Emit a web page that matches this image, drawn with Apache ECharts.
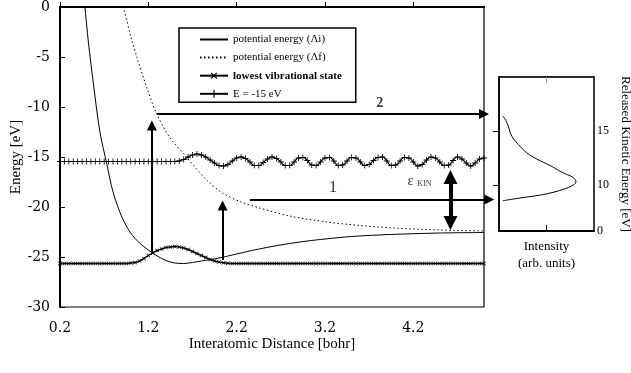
<!DOCTYPE html>
<html><head><meta charset="utf-8">
<script src="https://cdn.jsdelivr.net/npm/echarts@6/dist/echarts.min.js"></script>
<style>html,body{margin:0;padding:0;background:#fff}#c{width:631px;height:373px}</style>
</head><body><div id="c"></div>
<script>
// ---- data ----
const sampleX = [0.2,0.25,0.3,0.35,0.4,0.45,0.5,0.55,0.6,0.65,0.7,0.75,0.8,0.85,0.9,0.95,1.0,1.05,1.1,1.15,1.2,1.25,1.3,1.35,1.4,1.45,1.5,1.55,1.6,1.65,1.7,1.75,1.8,1.85,1.9,1.95,2.0,2.05,2.1,2.15,2.2,2.25,2.3,2.35,2.4,2.45,2.5,2.55,2.6,2.65,2.7,2.75,2.8,2.85,2.9,2.95,3.0,3.05,3.1,3.15,3.2,3.25,3.3,3.35,3.4,3.45,3.5,3.55,3.6,3.65,3.7,3.75,3.8,3.85,3.9,3.95,4.0,4.05,4.1,4.15,4.2,4.25,4.3,4.35,4.4,4.45,4.5,4.55,4.6,4.65,4.7,4.75,4.8,4.85,4.9,4.95,5.0];
const energyLineY = [
 -15.45,-15.45,-15.45,-15.45,-15.45,-15.45,-15.45,-15.45,-15.45,-15.45,
 -15.45,-15.45,-15.45,-15.45,-15.45,-15.45,-15.45,-15.45,-15.45,-15.45,
 -15.45,-15.45,-15.45,-15.45,-15.45,-15.45,-15.45,
 -15.4,-15.25,-15.0,-14.8,-14.7,-14.8,-15.0,-15.3,-15.6,-15.85,
 -15.9,-15.75,-15.4,-15.1,-15.0,-15.15,-15.5,-15.85,-15.85,-15.55,
 -15.2,-15.0,-15.15,-15.5,-15.85,-15.85,-15.5,-15.1,-15.05,-15.35,
 -15.8,-15.85,-15.5,-15.1,-15.05,-15.4,-15.85,-15.8,-15.4,-15.05,
 -15.1,-15.5,-15.85,-15.75,-15.35,-15.05,-15.0,-15.4,-15.85,-15.8,
 -15.4,-15.05,-15.1,-15.5,-15.9,-15.75,-15.3,-15.0,-15.1,-15.5,
 -15.85,-15.8,-15.35,-15.0,-15.2,-15.6,-15.9,-15.6,-15.2,-15.1];
const lowestStateY = [
 -25.65,-25.65,-25.65,-25.65,-25.65,-25.65,-25.65,-25.65,-25.65,-25.65,
 -25.65,-25.65,-25.65,-25.65,-25.65,-25.65,
 -25.6,-25.55,-25.4,-25.15,-24.85,-24.6,-24.35,-24.2,-24.05,-24.0,-23.95,-24.0,-24.1,-24.25,-24.45,-24.65,-24.85,-25.05,-25.25,-25.4,-25.5,-25.58,-25.63,
 -25.65,-25.65,-25.65,-25.65,-25.65,-25.65,-25.65,-25.65,-25.65,-25.65,
 -25.65,-25.65,-25.65,-25.65,-25.65,-25.65,-25.65,-25.65,-25.65,-25.65,
 -25.65,-25.65,-25.65,-25.65,-25.65,-25.65,-25.65,-25.65,-25.65,-25.65,
 -25.65,-25.65,-25.65,-25.65,-25.65,-25.65,-25.65,-25.65,-25.65,-25.65,
 -25.65,-25.65,-25.65,-25.65,-25.65,-25.65,-25.65,-25.65,-25.65,-25.65,
 -25.65,-25.65,-25.65,-25.65,-25.65,-25.65,-25.65,-25.65];
const potIX = [0.45,0.48,0.52,0.58,0.65,0.73,0.8,0.9,1.0,1.1,1.2,1.3,1.4,1.5,1.6,1.7,1.8,2.0,2.2,2.4,2.6,2.8,3.0,3.2,3.5,3.8,4.1,4.5,5.0];
const potIY = [3.0,0.2,-3.4,-7.8,-12.4,-15.7,-18.5,-21.0,-22.6,-23.6,-24.3,-24.9,-25.35,-25.6,-25.65,-25.55,-25.4,-25.1,-24.7,-24.3,-23.95,-23.65,-23.4,-23.2,-22.95,-22.8,-22.7,-22.6,-22.55];
const potFX = [0.88,0.92,1.0,1.07,1.18,1.29,1.44,1.63,1.86,2.04,2.25,2.46,2.8,3.22,3.6,3.97,4.5,5.0];
const potFY = [1.2,-0.1,-2.9,-5.0,-8.0,-10.6,-13.0,-15.0,-17.3,-18.6,-19.5,-20.1,-20.9,-21.5,-21.85,-22.1,-22.3,-22.4];
const kinEnergy = [8.55,8.8,9.1,9.5,9.9,10.3,10.7,11.2,11.8,12.4,13.0,13.6,14.2,14.8,15.4,16.0,16.4];
const kinIntensity = [0.04,0.22,0.45,0.64,0.76,0.81,0.78,0.66,0.54,0.40,0.29,0.22,0.16,0.12,0.10,0.07,0.04];
const xTickValues = [0.2,1.2,2.2,3.2,4.2];
const insetTickValues = [10,15];
const insetLabelValues = [5.75,10,15];
const insetLabelText = ['0','10','15'];
const seriesNames = ['potential energy (Λi)','potential energy (Λf)','lowest vibrational state','E = -15 eV'];
// arrows: [from, to]
const thinArrows = [
  [[1.24,-24.5],[1.24,-11.85]],
  [[1.30,-10.7],[5.0,-10.7]],
  [[2.04,-25.3],[2.04,-19.85]],
  [[2.35,-19.25],[5.06,-19.25]]
];
const doubleArrow = [[4.62,-17.0],[4.62,-21.6]];
const notes = [
  {x:3.82, y:-9.6, text:'2', kind:'n2'},
  {x:3.29, y:-18.1, text:'1', kind:'n1'},
  {x:4.27, y:-17.4, text:'{e|ε} {s|KIN}', kind:'eps'}
];

const SERIF = 'Liberation Serif';
const TICKF = 'DejaVu Serif';
const zip = (a,b) => a.map((v,i)=>[v,b[i]]);
const plusPath = 'path://M4.3,0H5.7V4.3H10V5.7H5.7V10H4.3V5.7H0V4.3H4.3Z';

const chart = echarts.init(document.getElementById('c'), null, {renderer:'canvas'});
chart.setOption({
  animation:false,
  backgroundColor:'#fff',
  grid:[
    {left:60, top:7, width:424, height:300, show:true, borderColor:'#000', borderWidth:1.2, outerBoundsMode:'none', containLabel:false},
    {left:499, top:77, width:95, height:154, show:true, borderColor:'#000', borderWidth:1.5, outerBoundsMode:'none', containLabel:false}
  ],
  legend:{
    data:[
      {name:seriesNames[0], itemStyle:{opacity:0}},
      {name:seriesNames[1], itemStyle:{opacity:0}},
      {name:seriesNames[2]},
      {name:seriesNames[3]}
    ],
    orient:'vertical', left:179, top:28,
    padding:[6,14,3,20], itemGap:7, itemWidth:28, itemHeight:10,
    borderColor:'#000', borderWidth:1.5, backgroundColor:'#fff',
    textStyle:{fontFamily:SERIF, fontSize:11, color:'#000',
      rich:{b:{fontFamily:SERIF, fontSize:11, fontWeight:'bold', color:'#000'}}},
    formatter:n => (n==='lowest vibrational state' ? '{b|'+n+'}' : n)
  },
  xAxis:[
    {type:'value', gridIndex:0, min:0.2, max:5.0,
     name:'Interatomic Distance [bohr]', nameLocation:'middle', nameGap:30, nameMoveOverlap:false,
     nameTextStyle:{fontFamily:SERIF, fontSize:15, color:'#000'},
     axisLine:{show:true, lineStyle:{color:'#000', width:2}},
     axisTick:{show:true, inside:true, length:5, customValues:xTickValues, lineStyle:{color:'#000'}},
     axisLabel:{customValues:xTickValues, formatter:v=>v.toFixed(1), fontFamily:TICKF, fontSize:14, color:'#000', margin:14},
     splitLine:{show:false}},
    {type:'value', gridIndex:0, position:'top', min:0.2, max:5.0,
     axisLine:{show:true, lineStyle:{color:'#000', width:2}}, axisTick:{show:false}, axisLabel:{show:false}, splitLine:{show:false}},
    {type:'value', gridIndex:1, min:0, max:1,
     name:'Intensity\n(arb. units)', nameLocation:'middle', nameGap:7, nameMoveOverlap:false,
     nameTextStyle:{fontFamily:SERIF, fontSize:13, color:'#000', lineHeight:17, verticalAlign:'top'},
     axisLine:{show:true, lineStyle:{color:'#000', width:2}},
     axisTick:{show:true, inside:true, length:6, customValues:[0.5], lineStyle:{color:'#000'}},
     axisLabel:{show:false}, splitLine:{show:false}},
    {type:'value', gridIndex:1, position:'top', min:0, max:1,
     axisLine:{show:true, lineStyle:{color:'#222', width:1.5}},
     axisTick:{show:true, inside:true, length:6, customValues:[0.5], lineStyle:{color:'#999'}},
     axisLabel:{show:false}, splitLine:{show:false}}
  ],
  yAxis:[
    {type:'value', gridIndex:0, min:-30, max:0, interval:5,
     name:'Energy [eV]', nameLocation:'middle', nameGap:36, nameRotate:90, nameMoveOverlap:false,
     nameTextStyle:{fontFamily:SERIF, fontSize:15, color:'#000'},
     axisLine:{show:true, lineStyle:{color:'#000', width:2}},
     axisTick:{show:true, inside:true, length:5, lineStyle:{color:'#000'}},
     axisLabel:{fontFamily:TICKF, fontSize:14, color:'#000', margin:10},
     splitLine:{show:false}},
    {type:'value', gridIndex:1, position:'right', min:5.75, max:20,
     name:'Released Kinetic Energy [eV]', nameLocation:'middle', nameGap:25, nameRotate:-90, nameMoveOverlap:false,
     nameTextStyle:{fontFamily:SERIF, fontSize:13, color:'#000'},
     axisLine:{show:true, lineStyle:{color:'#000', width:1.5}},
     axisTick:{show:true, inside:true, length:6, customValues:insetTickValues, lineStyle:{color:'#000'}},
     axisLabel:{customValues:insetLabelValues, formatter:v=>insetLabelText[insetLabelValues.indexOf(v)] ?? String(v),
       fontFamily:SERIF, fontSize:12, color:'#000', margin:3},
     splitLine:{show:false}}
  ],
  series:[
    {name:seriesNames[0], type:'line', xAxisIndex:0, yAxisIndex:0, data:zip(potIX,potIY),
     smooth:0.3, showSymbol:false, symbol:'none', lineStyle:{color:'#000', width:1}, itemStyle:{color:'#000'}, z:3},
    {name:seriesNames[1], type:'line', xAxisIndex:0, yAxisIndex:0, data:zip(potFX,potFY),
     smooth:0.3, showSymbol:false, symbol:'none', lineStyle:{color:'#000', width:1, type:[1.5,2.5]}, itemStyle:{color:'#000'}, z:3},
    {name:seriesNames[2], type:'line', xAxisIndex:0, yAxisIndex:0, data:zip(sampleX,lowestStateY),
     smooth:true, symbol:plusPath, symbolSize:5, symbolRotate:45, lineStyle:{color:'#000', width:1.4}, itemStyle:{color:'#000'}, z:4},
    {name:seriesNames[3], type:'line', xAxisIndex:0, yAxisIndex:0, data:zip(sampleX,energyLineY),
     smooth:true, symbol:plusPath, symbolSize:6, lineStyle:{color:'#000', width:1.2}, itemStyle:{color:'#000'}, z:4},
    {type:'lines', coordinateSystem:'cartesian2d', xAxisIndex:0, yAxisIndex:0, clip:false,
     symbol:['none','triangle'], symbolSize:10, lineStyle:{color:'#000', width:2, opacity:1},
     data:thinArrows.map(c=>({coords:c})), z:5},
    {type:'lines', coordinateSystem:'cartesian2d', xAxisIndex:0, yAxisIndex:0, clip:false,
     symbol:['triangle','triangle'], symbolSize:14, lineStyle:{color:'#000', width:4, opacity:1},
     data:[{coords:doubleArrow}], z:5},
    {type:'scatter', xAxisIndex:0, yAxisIndex:0, symbolSize:0, silent:true, z:6,
     data:notes.map(n=>({value:[n.x,n.y], label:{show:true, position:'inside', formatter:n.text,
       fontFamily:SERIF, color:'#000', fontWeight: n.kind==='n2' ? 'bold' : 'normal',
       fontSize: n.kind==='n1' ? 17 : 14,
       rich:{e:{fontFamily:SERIF, fontSize:15, color:'#000'}, s:{fontFamily:SERIF, fontSize:8, color:'#000', padding:[6,0,0,0]}}}}))},
    {type:'line', xAxisIndex:2, yAxisIndex:1, data:zip(kinIntensity,kinEnergy),
     smooth:0.4, symbol:'none', lineStyle:{color:'#000', width:1}, z:3}
  ]
});
</script></body></html>
